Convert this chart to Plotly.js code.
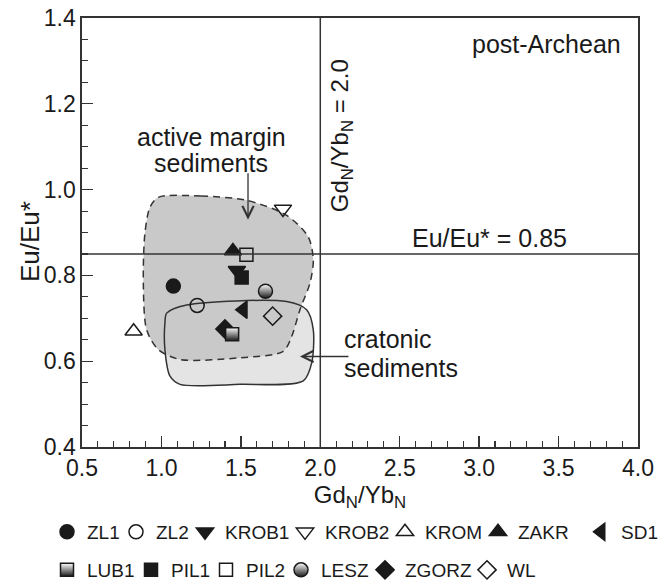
<!DOCTYPE html>
<html>
<head>
<meta charset="utf-8">
<script src="https://cdn.plot.ly/plotly-3.0.1.min.js"></script>
<style>html,body{margin:0;padding:0;background:#fff;}#chart{width:665px;height:587px;}</style>
</head>
<body>
<div id="chart"></div>
<script>
// ---- data ----
const sampleNames = ['ZL1','ZL2','KROB1','KROB2','KROM','ZAKR','SD1','LUB1','PIL1','PIL2','LESZ','ZGORZ','WL'];
const gdYbN = [1.075, 1.225, 1.475, 1.765, 0.825, 1.45, 1.515, 1.445, 1.505, 1.535, 1.655, 1.40, 1.70];
const euEuStar = [0.775, 0.73, 0.812, 0.955, 0.67, 0.857, 0.72, 0.663, 0.795, 0.848, 0.763, 0.675, 0.705];

// field outlines (data coordinates)
const activeX = [0.980, 1.250, 1.537, 1.788, 1.924, 1.956, 1.935, 1.872, 1.820, 1.767, 1.494, 1.117, 0.980, 0.907, 0.886, 0.896, 0.928, 0.980];
const activeY = [0.982, 0.985, 0.975, 0.940, 0.890, 0.836, 0.782, 0.720, 0.658, 0.623, 0.608, 0.604, 0.627, 0.673, 0.782, 0.898, 0.959, 0.982];
const cratonX = [1.033, 1.159, 1.788, 1.914, 1.956, 1.946, 1.893, 1.494, 1.117, 1.054, 1.022, 1.022, 1.033];
const cratonY = [0.712, 0.731, 0.739, 0.720, 0.673, 0.596, 0.554, 0.546, 0.546, 0.565, 0.627, 0.689, 0.712];

const xTickVals = [0.5, 1.0, 1.5, 2.0, 2.5, 3.0, 3.5, 4.0];
const yTickVals = [0.4, 0.6, 0.8, 1.0, 1.2, 1.4];
const euThreshold = 0.85;
const gdThreshold = 2.0;

// legend layout: two rows, entries in reference order (symbol centres, px)
const legendRow1 = ['ZL1','ZL2','KROB1','KROB2','KROM','ZAKR','SD1'];
const legendRow2 = ['LUB1','PIL1','PIL2','LESZ','ZGORZ','WL'];
const legendRow1SymbolPx = [66, 135, 204, 304, 404, 497, 600];
const legendRow2SymbolPx = [66, 150, 225, 300, 384, 486];

// ---- styles ----
const INK = '#1a1a1a';
const AX = '#333333';
const FONT = 'Liberation Sans, Arial, sans-serif';
const styles = {
  ZL1:   {symbol:'circle', size:14, color:INK},
  ZL2:   {symbol:'circle-open', size:14, color:INK},
  KROB1: {symbol:'triangle-down', size:15, color:INK},
  KROB2: {symbol:'triangle-down-open', size:15, color:INK},
  KROM:  {symbol:'triangle-up-open', size:15, color:INK},
  ZAKR:  {symbol:'triangle-up', size:15, color:INK},
  SD1:   {symbol:'triangle-left', size:15, color:INK},
  LUB1:  {symbol:'square', size:13, color:'#ffffff', gradient:{type:'vertical', color:INK}},
  PIL1:  {symbol:'square', size:13, color:INK},
  PIL2:  {symbol:'square-open', size:13, color:INK},
  LESZ:  {symbol:'circle', size:14, color:'#ffffff', gradient:{type:'vertical', color:INK}},
  ZGORZ: {symbol:'diamond', size:14, color:INK},
  WL:    {symbol:'diamond-open', size:14, color:INK}
};
const drawOrder = ['ZL1','ZL2','KROB1','PIL1','KROB2','KROM','ZAKR','PIL2','SD1','ZGORZ','LUB1','LESZ','WL'];

// plot geometry (for placing legends in paper units)
const W = 665, H = 587, ML = 82, MR = 27, MT = 18, MB = 140;
const PW = W - ML - MR, PH = H - MT - MB;
const row1Py = 532, row2Py = 570;

const traces = [];
traces.push({x: cratonX, y: cratonY, mode:'lines', fill:'toself', fillcolor:'#e4e4e4',
  line:{width:0, shape:'spline', smoothing:0.8, color:'rgba(0,0,0,0)'}, showlegend:false, hoverinfo:'skip'});
traces.push({x: activeX, y: activeY, mode:'lines', fill:'toself', fillcolor:'#c9c9c9',
  line:{width:0, shape:'spline', smoothing:0.8, color:'rgba(0,0,0,0)'}, showlegend:false, hoverinfo:'skip'});
traces.push({x: cratonX, y: cratonY, mode:'lines',
  line:{width:1.5, shape:'spline', smoothing:0.8, color:AX}, showlegend:false, hoverinfo:'skip'});
traces.push({x: activeX, y: activeY, mode:'lines',
  line:{width:1.5, shape:'spline', smoothing:0.8, color:AX, dash:'7px,5px'}, showlegend:false, hoverinfo:'skip'});

const layout = {
  width:W, height:H,
  margin:{l:ML, r:MR, t:MT, b:MB, autoexpand:false},
  paper_bgcolor:'#ffffff', plot_bgcolor:'#ffffff',
  font:{family:FONT, size:24, color:INK},
  xaxis:{range:[0.5,4.0], tickvals:xTickVals, tickformat:'.1f', ticks:'inside', ticklen:11, tickwidth:1.3, tickcolor:AX,
    minor:{dtick:0.1, ticks:'inside', ticklen:6, tickwidth:1.1, tickcolor:AX},
    showgrid:false, zeroline:false, showline:true, linecolor:AX, linewidth:1.6, mirror:true,
    tickfont:{family:FONT, size:23, color:INK},
    title:{text:'Gd<sub>N</sub>/Yb<sub>N</sub>', font:{family:FONT, size:24, color:INK}, standoff:1}},
  yaxis:{range:[0.4,1.4], tickvals:yTickVals, tickformat:'.1f', ticks:'inside', ticklen:11, tickwidth:1.3, tickcolor:AX,
    minor:{dtick:0.05, ticks:'inside', ticklen:6, tickwidth:1.1, tickcolor:AX},
    showgrid:false, zeroline:false, showline:true, linecolor:AX, linewidth:1.6, mirror:true,
    tickfont:{family:FONT, size:23, color:INK}},
  shapes:[
    {type:'line', xref:'paper', x0:0, x1:1, yref:'y', y0:euThreshold, y1:euThreshold, line:{color:AX, width:1.5}},
    {type:'line', xref:'x', x0:gdThreshold, x1:gdThreshold, yref:'paper', y0:0, y1:1, line:{color:AX, width:1.5}}
  ],
  annotations:[
    {xref:'paper', yref:'paper', x:(30 - ML) / PW, y:(H - MB - 242) / PH, text:'Eu/Eu*', textangle:-90, showarrow:false,
      xanchor:'center', yanchor:'middle', font:{size:26}},
    {xref:'x', yref:'y', x:3.905, y:1.339, text:'post-Archean', showarrow:false, xanchor:'right', yanchor:'middle', font:{size:25}},
    {xref:'x', yref:'y', x:2.13, y:1.1265, text:'Gd<sub>N</sub>/Yb<sub>N</sub> = 2.0', textangle:-90, showarrow:false, font:{size:24}},
    {xref:'x', yref:'y', x:3.068, y:0.888, text:'Eu/Eu* = 0.85', showarrow:false, font:{size:25}},
    {xref:'x', yref:'y', x:1.318, y:1.123, text:'active margin', showarrow:false, font:{size:25}},
    {xref:'x', yref:'y', x:1.312, y:1.061, text:'sediments', showarrow:false, font:{size:25}},
    {xref:'x', yref:'y', x:2.137, y:0.652, text:'cratonic', showarrow:false, xanchor:'left', font:{size:25}},
    {xref:'x', yref:'y', x:2.137, y:0.584, text:'sediments', showarrow:false, xanchor:'left', font:{size:25}},
    {xref:'x', yref:'y', x:1.545, y:0.930, text:'', showarrow:true, ax:0, ay:-48, arrowhead:5, arrowsize:1.7, arrowwidth:1.3, arrowcolor:AX},
    {xref:'x', yref:'y', x:1.872, y:0.611, text:'', showarrow:true, ax:50, ay:0, arrowhead:5, arrowsize:1.7, arrowwidth:1.3, arrowcolor:AX}
  ],
  showlegend:true
};

// one small legend per entry so the two rows keep the reference's spacing
let legendCount = 0;
function legendFor(name) {
  let symPx, rowPy;
  let k = legendRow1.indexOf(name);
  if (k >= 0) { symPx = legendRow1SymbolPx[k]; rowPy = row1Py; }
  else { k = legendRow2.indexOf(name); symPx = legendRow2SymbolPx[k]; rowPy = row2Py; }
  legendCount += 1;
  const id = legendCount === 1 ? 'legend' : 'legend' + legendCount;
  layout[id] = {
    x:(symPx - 19 - ML) / PW, y:(H - MB - rowPy) / PH, xanchor:'left', yanchor:'middle',
    orientation:'h', font:{family:FONT, size:19, color:INK}, bgcolor:'rgba(0,0,0,0)', itemwidth:30
  };
  return id;
}

drawOrder.forEach(name => {
  const i = sampleNames.indexOf(name);
  const s = styles[name];
  const marker = {symbol:s.symbol, size:s.size, color:s.color, line:{color:INK, width:1.5}};
  if (s.gradient) marker.gradient = s.gradient;
  traces.push({
    x:[gdYbN[i]], y:[euEuStar[i]], mode:'markers', name:name,
    legend: legendFor(name),
    marker: marker
  });
});

Plotly.newPlot('chart', traces, layout, {staticPlot:true, displayModeBar:false});
</script>
</body>
</html>
